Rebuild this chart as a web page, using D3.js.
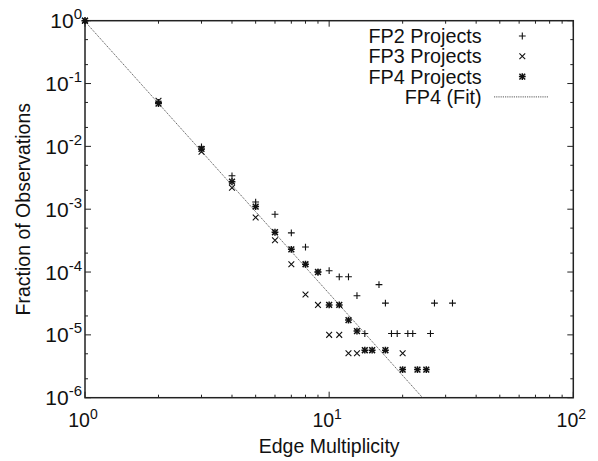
<!DOCTYPE html>
<html>
<head>
<meta charset="utf-8">
<script src="https://cdn.jsdelivr.net/npm/d3@7"></script>
<style>
  html, body { margin: 0; padding: 0; background: #fff; }
  text { font-family: "Liberation Sans", Arial, Helvetica, sans-serif; fill: #111; }
</style>
</head>
<body>
<svg id="chart" width="598" height="461"></svg>
<script>
// Edge multiplicity distributions (fraction of observations per multiplicity)
const fp2X = [1, 2, 3, 4, 5, 6, 7, 8, 9, 10, 11, 12, 13, 14, 16, 17, 18, 19, 21, 22, 26, 27, 32];
const fp2Y = [1.0, 0.05, 0.0098, 0.0034, 0.0013, 8.3e-4, 4.2e-4, 2.5e-4, 1.0e-4, 1.05e-4, 8.4e-5, 8.4e-5,
              4.2e-5, 1.05e-5, 6.3e-5, 3.2e-5, 1.05e-5, 1.05e-5, 1.05e-5, 1.05e-5, 1.05e-5, 3.2e-5, 3.2e-5];

const fp3X = [1, 2, 3, 4, 5, 6, 7, 8, 9, 10, 11, 12, 13, 20];
const fp3Y = [1.0, 0.053, 0.0082, 0.0022, 7.4e-4, 3.2e-4, 1.33e-4, 4.4e-5, 3.0e-5, 1.0e-5, 1.0e-5,
              5.1e-6, 5.1e-6, 5.1e-6];

const fp4X = [1, 2, 3, 4, 5, 6, 7, 8, 9, 10, 11, 12, 13, 14, 15, 17, 20, 23, 25];
const fp4Y = [1.0, 0.048, 0.0091, 0.00274, 0.0011, 4.3e-4, 2.3e-4, 1.33e-4, 1.0e-4, 3.0e-5, 3.0e-5,
              1.72e-5, 1.15e-5, 5.7e-6, 5.7e-6, 5.7e-6, 2.8e-6, 2.8e-6, 2.8e-6];

// Power-law fit to FP4: y = C * x^(-alpha)
const fitC = 0.97;
const fitAlpha = 4.33;

const legendLabels = ["FP2 Projects", "FP3 Projects", "FP4 Projects", "FP4 (Fit)"];
const xTickExps = [0, 1, 2];
const yTickExps = [0, -1, -2, -3, -4, -5, -6];

const svg = d3.select("#chart");
const plotL = 85, plotR = 573.3, plotT = 20.7, plotB = 397.7;

const x = d3.scaleLog().domain([1, 100]).range([plotL, plotR]);
const y = d3.scaleLog().domain([1e-6, 1]).range([plotB, plotT]);

const axisColor = "#222";

// Ticks (inward, mirrored on opposite sides)
const gTicks = svg.append("g").attr("stroke", axisColor).attr("stroke-width", 1);
const majorLen = 6, minorLen = 3;
for (let e = 0; e <= 2; e++) {
  for (let m = 1; m <= 9; m++) {
    const v = m * Math.pow(10, e);
    if (v > 100) break;
    const px = x(v);
    const len = m === 1 ? majorLen : minorLen;
    gTicks.append("line").attr("x1", px).attr("x2", px).attr("y1", plotB).attr("y2", plotB - len);
    gTicks.append("line").attr("x1", px).attr("x2", px).attr("y1", plotT).attr("y2", plotT + len);
  }
}
for (let e = -6; e <= 0; e++) {
  [1, 2, 5].forEach(m => {
    const v = m * Math.pow(10, e);
    if (v > 1) return;
    const py = y(v);
    const len = m === 1 ? majorLen : minorLen;
    gTicks.append("line").attr("x1", plotL).attr("x2", plotL + len).attr("y1", py).attr("y2", py);
    gTicks.append("line").attr("x1", plotR).attr("x2", plotR - len).attr("y1", py).attr("y2", py);
  });
}

// Frame
svg.append("rect")
  .attr("x", plotL).attr("y", plotT)
  .attr("width", plotR - plotL).attr("height", plotB - plotT)
  .attr("fill", "none").attr("stroke", axisColor).attr("stroke-width", 1.5);

// Tick labels with superscript exponents
function powLabel(sel, exp, big, small, rise) {
  sel.append("tspan").attr("font-size", big).text("10");
  sel.append("tspan").attr("dy", -rise).attr("font-size", small).text(String(exp));
}
xTickExps.forEach(e => {
  const t = svg.append("text")
    .attr("x", x(Math.pow(10, e)) - 2)
    .attr("y", plotB + 29.5)
    .attr("text-anchor", "middle");
  powLabel(t, e, 19.5, 14, 8);
});
yTickExps.forEach(e => {
  const t = svg.append("text")
    .attr("x", 82)
    .attr("y", y(Math.pow(10, e)) + 7.5)
    .attr("text-anchor", "end");
  powLabel(t, e, 21, 15, 9);
});

// Axis titles
svg.append("text")
  .attr("x", (plotL + plotR) / 2).attr("y", 453)
  .attr("text-anchor", "middle").attr("font-size", 19.5)
  .text("Edge Multiplicity");
svg.append("text")
  .attr("transform", `translate(30,${(plotT + plotB) / 2}) rotate(-90)`)
  .attr("text-anchor", "middle").attr("font-size", 19.5)
  .text("Fraction of Observations");

// Clip for the fit line
svg.append("clipPath").attr("id", "plotClip")
  .append("rect").attr("x", plotL).attr("y", plotT).attr("width", plotR - plotL).attr("height", plotB - plotT);

const fitStyle = sel => sel.attr("fill", "none").attr("stroke", "#444")
  .attr("stroke-width", 0.9).attr("stroke-dasharray", "1.2,1");

const xEnd = Math.pow(fitC / 1e-6, 1 / fitAlpha);
const fitPts = d3.range(0, 41).map(i => {
  const xv = Math.pow(10, Math.log10(xEnd) * i / 40);
  return [xv, fitC * Math.pow(xv, -fitAlpha)];
});
svg.append("path")
  .attr("clip-path", "url(#plotClip)")
  .attr("d", d3.line().x(d => x(d[0])).y(d => y(d[1]))(fitPts))
  .call(fitStyle);

// Marker drawing
const s = 3.4;
function plus(g, cx, cy) {
  g.append("path").attr("d", `M${cx - s},${cy}H${cx + s}M${cx},${cy - s}V${cy + s}`);
}
function cross(g, cx, cy) {
  const c = s * 0.85;
  g.append("path").attr("d", `M${cx - c},${cy - c}L${cx + c},${cy + c}M${cx - c},${cy + c}L${cx + c},${cy - c}`);
}
function star(g, cx, cy) { plus(g, cx, cy); cross(g, cx, cy); }

const gMarks = svg.append("g").attr("stroke", "#111").attr("stroke-width", 1.1).attr("fill", "none");
fp2X.forEach((v, i) => plus(gMarks, x(v), y(fp2Y[i])));
fp3X.forEach((v, i) => cross(gMarks, x(v), y(fp3Y[i])));
const gStar = svg.append("g").attr("stroke", "#111").attr("stroke-width", 1.5).attr("fill", "none");
fp4X.forEach((v, i) => star(gStar, x(v), y(fp4Y[i])));

// Legend
const legX = 481.7, legSym = 522.3, legY0 = 36, legDy = 20.3;
legendLabels.forEach((lab, i) => {
  svg.append("text")
    .attr("x", legX).attr("y", legY0 + i * legDy + 7)
    .attr("text-anchor", "end").attr("font-size", 19.8)
    .text(lab);
});
plus(gMarks, legSym, legY0);
cross(gMarks, legSym, legY0 + legDy);
star(gStar, legSym, legY0 + 2 * legDy);
svg.append("line")
  .attr("x1", 494).attr("x2", 548.3)
  .attr("y1", legY0 + 3 * legDy).attr("y2", legY0 + 3 * legDy)
  .call(fitStyle);
</script>
</body>
</html>
